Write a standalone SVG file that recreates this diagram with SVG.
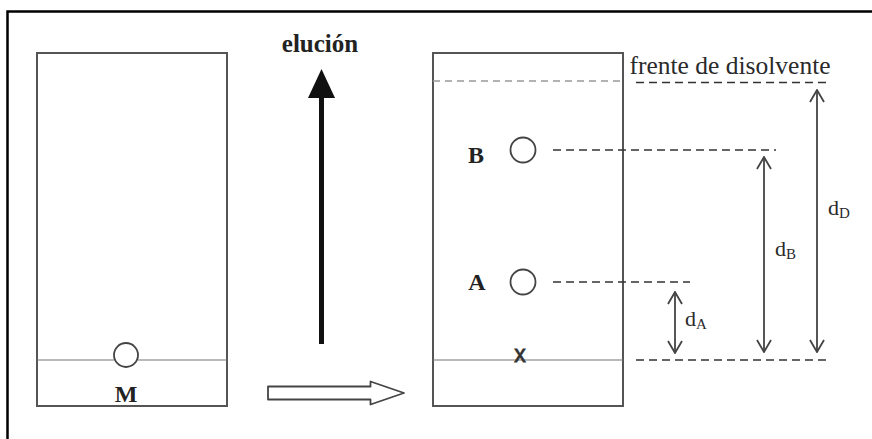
<svg xmlns="http://www.w3.org/2000/svg" width="872" height="439" viewBox="0 0 872 439">
  <defs>
    <style>
      .frame { fill: none; stroke: #000; stroke-width: 2.5; }
      .plate { fill: none; stroke: #555; stroke-width: 2; }
      .origin { stroke: #777; stroke-width: 1.2; fill: none; }
      .spot { fill: #fff; stroke: #444; stroke-width: 1.8; }
      .dash { stroke: #333; stroke-width: 1.6; stroke-dasharray: 8 5; fill: none; }
      .front { stroke: #999; stroke-width: 1.3; stroke-dasharray: 7 5; fill: none; }
      .dim { stroke: #444; stroke-width: 1.8; fill: none; }
      .bold { font-family: "Liberation Serif", "Times New Roman", serif; font-weight: bold; fill: #222; }
      .reg { font-family: "Liberation Serif", "Times New Roman", serif; fill: #2a2a2a; }
    </style>
    <marker id="open" viewBox="0 0 14 16" refX="13" refY="8" markerWidth="14" markerHeight="16" markerUnits="userSpaceOnUse" orient="auto-start-reverse">
      <path d="M1,1 L13,8 L1,15" fill="none" stroke="#444" stroke-width="1.8"/>
    </marker>
  </defs>

  <!-- page frame (top and left edges only) -->
  <path class="frame" d="M7.5,439 V11.5 H872"/>

  <!-- plate before elution -->
  <g id="plate-before">
    <rect class="plate" x="37" y="53" width="190" height="353"/>
    <line class="origin" x1="37" y1="360" x2="114" y2="360"/>
    <line class="origin" x1="138" y1="360" x2="227" y2="360"/>
    <circle class="spot" cx="126" cy="355" r="12"/>
    <text class="bold" x="126" y="402" font-size="24" text-anchor="middle">M</text>
  </g>

  <!-- elution direction -->
  <g id="elution">
    <text class="bold" x="320" y="52" font-size="25" text-anchor="middle">elución</text>
    <line x1="321.5" y1="95" x2="321.5" y2="344" stroke="#111" stroke-width="5"/>
    <polygon points="321.5,69 308,98 335,98" fill="#111"/>
  </g>

  <!-- transition arrow -->
  <g id="step-arrow">
    <path d="M268,386.5 H370.5 V381.5 L404,393 L370.5,404.5 V399.5 H268 Z" fill="#fff" stroke="#444" stroke-width="1.8" stroke-linejoin="round"/>
  </g>

  <!-- plate after elution -->
  <g id="plate-after">
    <rect class="plate" x="433" y="53" width="190" height="353"/>
    <line class="front" x1="433" y1="81" x2="623" y2="81"/>
    <line class="origin" x1="433" y1="360" x2="623" y2="360"/>
    <text x="520" y="362" font-size="23" text-anchor="middle" font-family="Liberation Sans, Arial, sans-serif" fill="#333" stroke="#333" stroke-width="0.8">x</text>
  </g>

  <g id="spot-B">
    <text class="bold" x="476" y="163" font-size="24" text-anchor="middle">B</text>
    <circle class="spot" cx="523" cy="150" r="12.5"/>
  </g>

  <g id="spot-A">
    <text class="bold" x="477" y="290" font-size="24" text-anchor="middle">A</text>
    <circle class="spot" cx="523" cy="282" r="12.5"/>
  </g>

  <g id="solvent-front-label">
    <text class="reg" x="730" y="74" font-size="25.5" text-anchor="middle">frente de disolvente</text>
  </g>

  <!-- reference lines and distances -->
  <g id="connectors">
    <line class="dash" x1="636" y1="82.5" x2="831" y2="82.5"/>
    <line class="dash" x1="553" y1="150" x2="776" y2="150"/>
    <line class="dash" x1="553" y1="282" x2="690" y2="282"/>
    <line class="dash" x1="636" y1="360" x2="831" y2="360"/>

    <line class="dim" x1="817" y1="90" x2="817" y2="352" marker-start="url(#open)" marker-end="url(#open)"/>
    <line class="dim" x1="764" y1="157" x2="764" y2="352" marker-start="url(#open)" marker-end="url(#open)"/>
    <line class="dim" x1="675" y1="292" x2="675" y2="353" marker-start="url(#open)" marker-end="url(#open)"/>
  </g>

  <g id="labels">
    <text class="reg" x="828" y="215" font-size="22">d<tspan font-size="15" dy="3">D</tspan></text>
    <text class="reg" x="775" y="256" font-size="22">d<tspan font-size="15" dy="3">B</tspan></text>
    <text class="reg" x="685" y="326" font-size="22">d<tspan font-size="15" dy="3">A</tspan></text>
  </g>
</svg>
